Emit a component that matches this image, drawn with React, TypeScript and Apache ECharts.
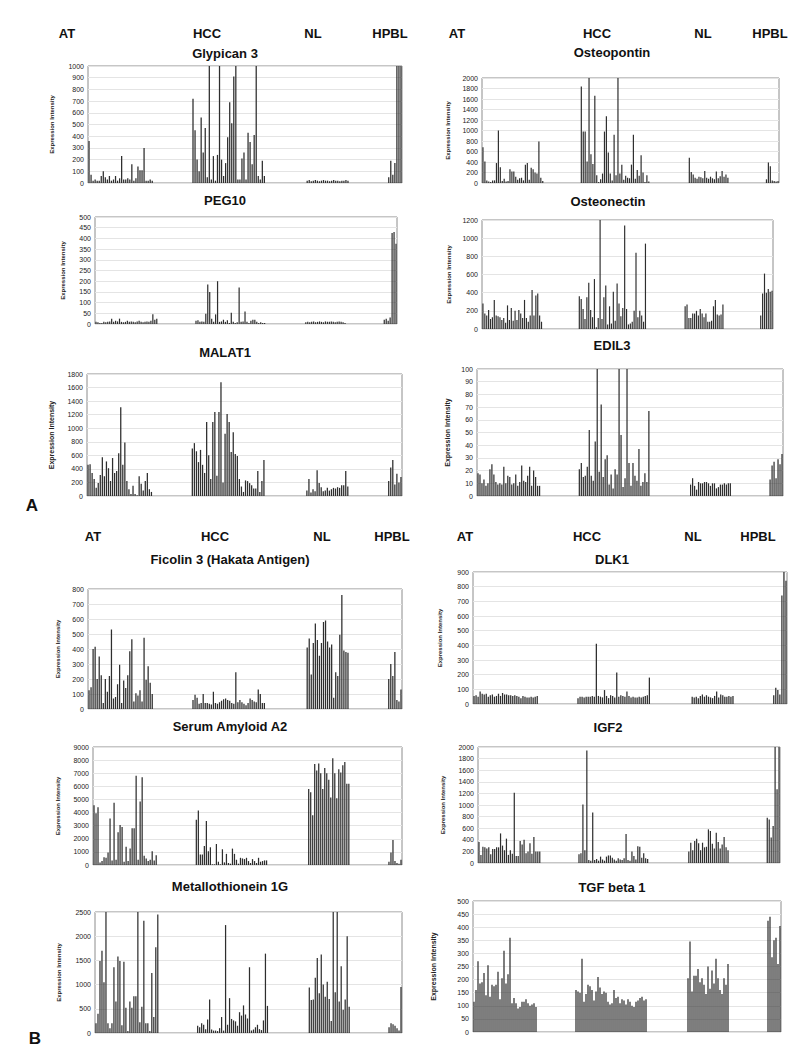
import React, { useEffect, useRef } from "react";
import * as echarts from "echarts";

// Sample groups (same samples in every panel)
const GROUPS = ["AT", "HCC", "NL", "HPBL"];
const GROUP_SIZES = [32, 36, 21, 7];
const GAP_SIZES = [19, 20, 19];

// Expression intensity per gene: AT | HCC | NL | HPBL
const glypican3 = [
  360, 70, 20, 30, 20, 20, 60, 100, 50, 30, 60, 20, 30, 60, 20, 40, 230, 30, 30, 40, 30, 160, 20, 40, 140, 110, 110, 300, 20, 20, 30, 20,
  720, 450, 200, 100, 560, 260, 470, 50, 1000, 30, 230, 20, 240, 1000, 200, 60, 170, 390, 690, 510, 910, 1000, 30, 30, 210, 260, 30, 430, 350, 160, 410, 1000, 60, 30, 190, 60,
  20, 25, 15, 20, 25, 20, 15, 20, 25, 20, 20, 15, 20, 25, 20, 20, 15, 20, 20, 25, 20,
  50, 190, 70, 170, 1000, 1000, 1000,
];
const peg10 = [
  10, 8, 5, 5, 10, 8, 10, 12, 25, 10, 15, 12, 25, 10, 8, 10, 15, 10, 12, 10, 8, 12, 15, 10, 8, 10, 12, 10, 15, 45, 20, 25,
  15, 18, 10, 12, 10, 48, 185, 150, 25, 10, 45, 200, 10, 12, 20, 10, 18, 5, 52, 10, 5, 8, 170, 10, 12, 58, 10, 5, 15, 20, 20, 10, 5, 8, 5, 5,
  8, 10, 8, 10, 12, 8, 10, 12, 10, 8, 12, 10, 10, 12, 10, 8, 10, 12, 10, 8, 5,
  20, 25, 15, 30, 425, 430, 375,
];
const malat1 = [
  460, 470, 340, 250, 120, 190, 310, 570, 290, 510, 410, 220, 560, 340, 370, 630, 1310, 460, 790, 220, 100, 30, 150, 30, 10, 290, 180, 80, 220, 340, 100, 60,
  700, 780, 660, 500, 680, 460, 340, 1090, 600, 250, 1090, 1240, 300, 1240, 1680, 200, 920, 1210, 1090, 650, 940, 620, 590, 250, 140, 60, 230, 220, 190, 160, 110, 110, 370, 60, 220, 530,
  80, 250, 50, 100, 70, 380, 190, 130, 70, 80, 120, 80, 100, 120, 110, 130, 120, 160, 160, 370, 140,
  220, 420, 530, 170, 330, 200, 280,
];
const osteopontin = [
  680, 410, 50, 30, 20, 50, 50, 380, 1000, 300, 40, 80, 30, 40, 260, 220, 220, 120, 60, 90, 100, 50, 350, 380, 60, 290, 260, 200, 180, 790, 100, 40,
  1840, 980, 980, 410, 2000, 550, 360, 1660, 150, 20, 70, 180, 980, 1270, 580, 180, 50, 920, 150, 2000, 180, 350, 60, 140, 100, 90, 350, 920, 80, 250, 140, 530, 200, 20, 150, 30,
  480, 210, 160, 100, 80, 120, 110, 90, 230, 100, 80, 120, 90, 70, 220, 90, 130, 230, 120, 160, 100,
  70, 390, 320, 50, 40, 30, 40,
];
const osteonectin = [
  280, 170, 150, 210, 110, 130, 320, 150, 140, 130, 100, 120, 70, 260, 100, 230, 90, 200, 100, 210, 170, 120, 320, 120, 80, 150, 430, 150, 370, 390, 150, 80,
  360, 330, 220, 110, 350, 510, 210, 130, 550, 20, 120, 1200, 110, 350, 480, 50, 250, 60, 410, 90, 500, 280, 140, 230, 1140, 220, 50, 60, 80, 200, 840, 130, 200, 150, 80, 940,
  250, 270, 120, 120, 170, 170, 200, 150, 220, 170, 130, 170, 80, 80, 90, 250, 320, 160, 150, 160, 270,
  150, 390, 610, 400, 440, 410, 420,
];
const edil3 = [
  18, 17, 10, 13, 8, 10, 21, 25, 17, 11, 9, 10, 9, 23, 10, 16, 15, 9, 10, 17, 8, 11, 24, 12, 11, 16, 23, 8, 20, 15, 8, 8,
  21, 26, 15, 16, 23, 52, 16, 12, 43, 100, 19, 72, 15, 29, 32, 9, 17, 6, 21, 17, 100, 48, 7, 14, 100, 26, 8, 26, 16, 12, 37, 8, 11, 18, 11, 67,
  9, 14, 8, 5, 11, 10, 10, 11, 11, 10, 8, 10, 10, 6, 7, 9, 9, 10, 9, 10, 10,
  13, 24, 27, 14, 29, 25, 33,
];
const ficolin3 = [
  125, 145, 400, 415, 200, 350, 225, 40, 200, 115, 220, 530, 70, 80, 165, 295, 40, 190, 140, 225, 385, 465, 50, 105, 90, 125, 50, 475, 195, 285, 175, 100,
  60, 95, 75, 35, 40, 100, 40, 40, 35, 30, 115, 40, 35, 45, 55, 65, 70, 60, 55, 40, 35, 245, 45, 60, 45, 35, 25, 40, 70, 60, 50, 45, 130, 100, 40, 40,
  410, 470, 230, 440, 570, 460, 355, 440, 580, 590, 450, 410, 430, 75, 245, 220, 495, 760, 390, 380, 375,
  200, 300, 220, 380, 60, 50, 130,
];
const serumAmyloidA2 = [
  4550, 3950, 4400, 200, 300, 600, 550, 950, 3550, 350, 4750, 400, 2500, 3050, 2900, 250, 1400, 300, 1250, 2800, 2800, 6800, 400, 4850, 6700, 700, 500, 300, 400, 1050, 350, 750,
  3450, 4150, 800, 800, 1450, 3350, 1050, 1350, 50, 50, 1600, 250, 50, 1200, 200, 850, 150, 100, 1250, 850, 400, 100, 550, 500, 450, 550, 300, 150, 450, 300, 150, 550, 250, 300, 350, 350,
  5800, 5550, 3800, 7700, 7200, 7750, 7000, 5800, 7400, 7000, 6500, 5150, 8150, 7000, 5100, 7300, 7050, 7600, 7850, 6200, 6200,
  250, 950, 1900, 300, 150, 100, 400,
];
const metallothionein1G = [
  200, 400, 1490, 1700, 1050, 2500, 200, 100, 200, 1360, 650, 1580, 1490, 160, 1470, 520, 40, 650, 520, 760, 760, 2500, 220, 540, 2320, 200, 200, 40, 1240, 330, 1770, 2450,
  150, 120, 200, 170, 80, 280, 690, 70, 50, 50, 40, 100, 330, 50, 2230, 170, 720, 290, 260, 240, 150, 430, 360, 570, 380, 300, 1360, 50, 70, 120, 170, 80, 60, 260, 1640, 560,
  940, 680, 690, 1140, 1550, 820, 1620, 1000, 750, 1060, 700, 250, 2500, 840, 2500, 650, 1380, 480, 690, 2000, 540,
  120, 200, 180, 150, 100, 50, 950,
];
const dlk1 = [
  55, 60, 50, 85, 70, 65, 70, 50, 60, 65, 50, 55, 70, 55, 75, 65, 65, 60, 60, 55, 60, 55, 50, 40, 55, 50, 45, 45, 50, 45, 50, 55,
  40, 50, 50, 45, 50, 50, 50, 55, 50, 410, 55, 50, 45, 95, 55, 40, 60, 55, 45, 215, 50, 60, 55, 50, 85, 55, 45, 50, 45, 45, 50, 45, 50, 55, 60, 180,
  50, 45, 50, 40, 55, 65, 50, 60, 50, 45, 40, 55, 85, 45, 65, 60, 50, 50, 55, 50, 55,
  60, 110, 95, 65, 740, 900, 840,
];
const igf2 = [
  360, 140, 280, 270, 250, 270, 150, 240, 240, 270, 270, 510, 300, 220, 420, 140, 220, 160, 1210, 120, 120, 380, 320, 400, 170, 200, 340, 160, 450, 200, 200, 200,
  150, 170, 1010, 220, 1940, 50, 40, 870, 50, 70, 40, 110, 60, 40, 110, 130, 130, 90, 60, 40, 80, 60, 50, 80, 500, 50, 40, 200, 120, 60, 290, 280, 90, 170, 80, 70,
  200, 350, 220, 380, 420, 340, 220, 350, 270, 280, 580, 550, 330, 250, 520, 360, 250, 320, 450, 270, 220,
  780, 750, 440, 640, 2000, 1270, 2000,
];
const tgfBeta1 = [
  115, 160, 270, 185, 190, 225, 140, 255, 135, 180, 175, 180, 230, 125, 205, 310, 185, 220, 360, 110, 130, 110, 90, 95, 115, 115, 125, 110, 100, 105, 110, 95,
  160, 155, 150, 280, 115, 145, 180, 175, 160, 120, 155, 210, 170, 145, 155, 150, 115, 105, 110, 160, 130, 135, 110, 125, 120, 105, 125, 115, 100, 95, 115, 120, 130, 135, 120, 125,
  205, 345, 155, 215, 215, 240, 190, 205, 180, 145, 250, 165, 235, 185, 280, 205, 160, 145, 205, 180, 260,
  425, 440, 285, 350, 360, 260, 405,
];

const GENES = [
  "Glypican 3", "PEG10", "MALAT1", "Osteopontin", "Osteonectin", "EDIL3",
  "Ficolin 3 (Hakata Antigen)", "Serum Amyloid A2", "Metallothionein 1G", "DLK1", "IGF2", "TGF beta 1",
];
const VALUES = [glypican3, peg10, malat1, osteopontin, osteonectin, edil3, ficolin3, serumAmyloidA2, metallothionein1G, dlk1, igf2, tgfBeta1];
const Y_MAX = [1000, 500, 1800, 2000, 1200, 100, 800, 9000, 2500, 900, 2000, 500];
const Y_STEP = [100, 50, 200, 200, 200, 10, 100, 1000, 500, 100, 200, 50];

// layout (pixels)
const PANELS = [
  { l: 88, t: 66, w: 314, h: 117, ty: 53, tx: 225, ng: 33, nf: 6 },
  { l: 95, t: 217, w: 302, h: 107, ty: 200, tx: 225, ng: 29, nf: 6 },
  { l: 87, t: 374, w: 315, h: 122, ty: 352, tx: 225, ng: 32, nf: 7 },
  { l: 482, t: 78, w: 297, h: 105, ty: 52, tx: 612, ng: 31, nf: 6 },
  { l: 482, t: 220, w: 291, h: 109, ty: 201, tx: 608, ng: 30, nf: 6 },
  { l: 477, t: 369, w: 306, h: 127, ty: 345, tx: 612, ng: 26, nf: 7 },
  { l: 88, t: 589, w: 314, h: 120, ty: 559, tx: 230, ng: 27, nf: 6 },
  { l: 93, t: 747, w: 309, h: 118, ty: 726, tx: 230, ng: 32, nf: 6 },
  { l: 95, t: 912, w: 307, h: 121, ty: 886, tx: 230, ng: 33, nf: 6 },
  { l: 473, t: 572, w: 314, h: 132, ty: 559, tx: 612, ng: 30, nf: 6 },
  { l: 478, t: 747, w: 302, h: 116, ty: 727, tx: 608, ng: 32, nf: 6 },
  { l: 473, t: 901, w: 308, h: 131, ty: 887, tx: 612, ng: 36, nf: 7 },
];

const GROUP_LABEL_ROWS = [
  { y: 33, xs: [67, 207, 313, 390] },
  { y: 33, xs: [457, 597, 703, 770] },
  { y: 536, xs: [93, 215, 322, 392] },
  { y: 536, xs: [465, 587, 693, 758] },
];

const FONT = '"Liberation Sans", Arial, sans-serif';

function layoutValues(vals: number[]) {
  const out: (number | null)[] = [];
  let k = 0;
  GROUP_SIZES.forEach((n, g) => {
    for (let i = 0; i < n; i++) out.push(vals[k++]);
    if (g < GAP_SIZES.length) for (let i = 0; i < GAP_SIZES[g]; i++) out.push(null);
  });
  return out;
}

export default function App() {
  const ref = useRef<HTMLDivElement>(null);
  useEffect(() => {
    if (!ref.current) return;
    const chart = echarts.init(ref.current, undefined, { renderer: "svg" });
    const total = GROUP_SIZES.reduce((a, b) => a + b, 0) + GAP_SIZES.reduce((a, b) => a + b, 0);
    const cats = Array.from({ length: total }, (_, i) => String(i));

    const grids: any[] = [];
    const xAxes: any[] = [];
    const yAxes: any[] = [];
    const series: any[] = [];
    const graphics: any[] = [];

    PANELS.forEach((p, i) => {
      grids.push({
        left: p.l, top: p.t, width: p.w, height: p.h,
        show: true, borderColor: "#8c8c8c", borderWidth: 1, backgroundColor: "#fff",
      });
      xAxes.push({
        type: "category", gridIndex: i, data: cats, boundaryGap: true,
        axisLine: { show: false }, axisTick: { show: false }, axisLabel: { show: false },
      });
      yAxes.push({
        type: "value", gridIndex: i, min: 0, max: Y_MAX[i], interval: Y_STEP[i],
        name: "Expression Intensity", nameLocation: "middle", nameGap: p.ng, nameRotate: 90,
        nameTextStyle: { fontSize: p.nf, fontWeight: "bold", color: "#222", fontFamily: FONT },
        axisLine: { show: false }, axisTick: { show: false },
        axisLabel: { fontSize: 7, color: "#222", margin: 4, fontFamily: FONT, formatter: (v: number) => String(v) },
        splitLine: { show: true, lineStyle: { color: "#e4e4e4", width: 1 } },
      });
      series.push({
        type: "bar", xAxisIndex: i, yAxisIndex: i,
        data: layoutValues(VALUES[i]),
        barCategoryGap: "38%",
        itemStyle: { color: "#2e2e2e" },
        clip: true,
      });
      graphics.push({
        type: "text", x: p.tx, y: p.ty,
        style: { text: GENES[i], fill: "#111", font: `bold 13px ${FONT}`, textAlign: "center", textVerticalAlign: "middle" },
      });
    });

    GROUP_LABEL_ROWS.forEach((row) => {
      row.xs.forEach((x, g) => {
        graphics.push({
          type: "text", x, y: row.y,
          style: { text: GROUPS[g], fill: "#111", font: `bold 13px ${FONT}`, textAlign: "center", textVerticalAlign: "middle" },
        });
      });
    });
    graphics.push({ type: "text", x: 32, y: 505, style: { text: "A", fill: "#111", font: `bold 17px ${FONT}`, textAlign: "center", textVerticalAlign: "middle" } });
    graphics.push({ type: "text", x: 35, y: 1038, style: { text: "B", fill: "#111", font: `bold 17px ${FONT}`, textAlign: "center", textVerticalAlign: "middle" } });

    chart.setOption({
      animation: false,
      backgroundColor: "#fff",
      grid: grids,
      xAxis: xAxes,
      yAxis: yAxes,
      series,
      graphic: graphics,
    });
    return () => chart.dispose();
  }, []);
  return <div ref={ref} style={{ position: "absolute", left: 0, top: 0, width: 800, height: 1059 }} />;
}
